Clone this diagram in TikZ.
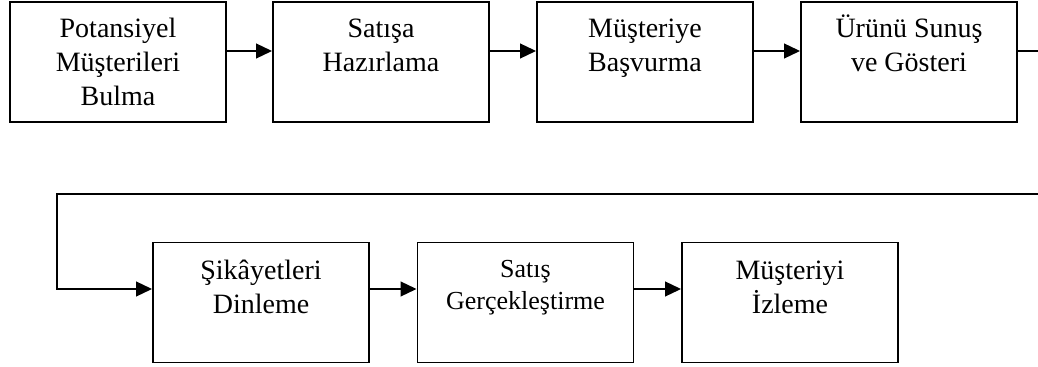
\documentclass[tikz,border=0pt]{standalone}
\usepackage{fontspec}
\setmainfont{Liberation Serif}
\usetikzlibrary{arrows.meta}

\begin{document}
\begin{tikzpicture}[x=0.75pt,y=-0.75pt,
	stage/.style={draw,line width=1.4pt,minimum width=162pt,minimum height=90pt,inner sep=0pt},
	stagetext/.style={anchor=base,align=center,inner sep=0pt,font=\fontsize{21}{25.5}\selectfont},
	flow/.style={line width=1.6pt,-{Triangle[length=12pt,width=11pt]}}]

	\clip (0,0) rectangle (1038,367);

	%upper row
	\node[stage] (b1) at (118,62) {};
	\node[stage] (b2) at (381,62) {};
	\node[stage] (b3) at (645,62) {};
	\node[stage] (b4) at (909,62) {};
	\node[stagetext] (t1) at (118,106) {Potansiyel\\Müşterileri\\Bulma};
	\node[stagetext] (t2) at (381,72) {Satışa\\Hazırlama};
	\node[stagetext] (t3) at (645,72) {Müşteriye\\Başvurma};
	\node[stagetext] (t4) at (909,72) {Ürünü Sunuş\\ve Gösteri};

	%lower row
	\node[stage] (b5) at (261,302.5) {};
	\node[stage] (b6) at (525.5,302.5) {};
	\node[stage] (b7) at (790,302.5) {};
	\node[stagetext] (t5) at (261,313) {Şikâyetleri\\Dinleme};
	\node[stagetext,font=\fontsize{19.5}{23.3}\selectfont] (t6) at (525.5,309) {Satış\\Gerçekleştirme};
	\node[stagetext] (t7) at (790,313) {Müşteriyi\\İzleme};

	\coordinate (r1) at (0,51);
	\coordinate (r2) at (0,289);
	\coordinate (back) at (57,194);

	\draw[flow] (b1.east |- r1) -- (b2.west |- r1);
	\draw[flow] (b2.east |- r1) -- (b3.west |- r1);
	\draw[flow] (b3.east |- r1) -- (b4.west |- r1);
	\draw[flow] (b4.east |- r1) -| (1045,194) -- (back) |- (b5.west |- r2);
	\draw[flow] (b5.east |- r2) -- (b6.west |- r2);
	\draw[flow] (b6.east |- r2) -- (b7.west |- r2);

\end{tikzpicture}
\end{document}
